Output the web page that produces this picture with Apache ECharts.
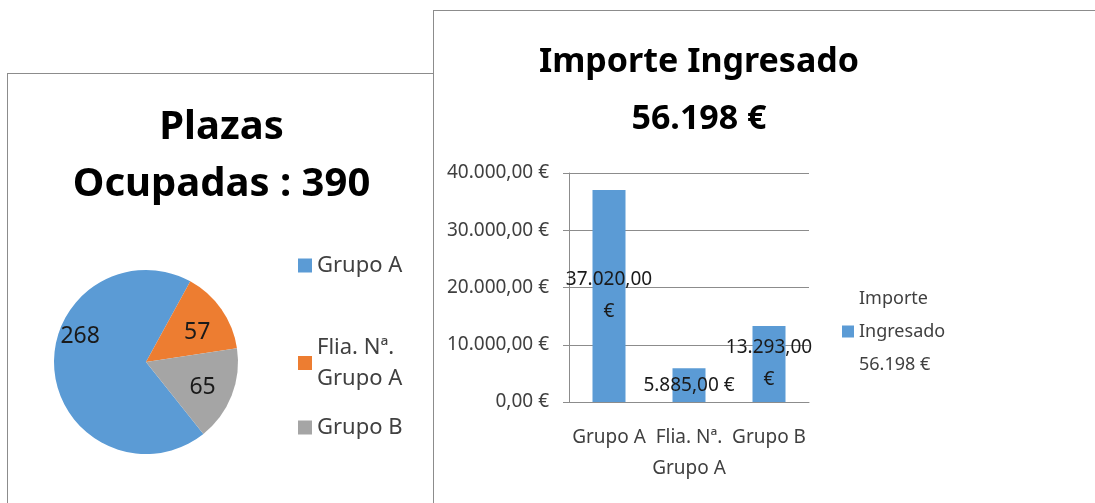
<!DOCTYPE html>
<html>
<head>
<meta charset="utf-8">
<script src="https://cdn.jsdelivr.net/npm/echarts@6/dist/echarts.min.js"></script>
<style>
  html, body { margin: 0; padding: 0; background: #fff; }
  body { width: 1095px; height: 503px; position: relative; overflow: hidden; }
  .panel { position: absolute; border: 1px solid #8c8c8c; background: #fff; }
  #left { left: 7px; top: 73px; width: 427px; height: 460px; }
  #right { left: 433px; top: 10px; width: 700px; height: 520px; }
  .chart { width: 100%; height: 100%; }
</style>
</head>
<body>
<div class="panel" id="left"><div class="chart" id="pieChart"></div></div>
<div class="panel" id="right"><div class="chart" id="barChart"></div></div>
<script>
// datos
const categories = ['Grupo A', 'Flia. Nª. Grupo A', 'Grupo B'];
const plazas = [268, 57, 65];
const importes = [37020, 5885, 13293];
const yTicks = [0, 10000, 20000, 30000, 40000];

const FONT = "'Noto Sans', 'Open Sans', sans-serif";
const colors = ['#5b9bd5', '#ed7d31', '#a5a5a5'];

// formato español: 40.000,00 €
function fmtNum(v, dec) {
  const parts = v.toFixed(dec).split('.');
  parts[0] = parts[0].replace(/\B(?=(\d{3})+(?!\d))/g, '.');
  return parts.join(',');
}

// parte el texto por palabras, max n caracteres por linea
function wrap(text, n) {
  const lines = [];
  let cur = '';
  text.split(' ').forEach(w => {
    if (cur && (cur + ' ' + w).length > n) {
      lines.push(cur);
      cur = w;
    } else {
      cur = cur ? cur + ' ' + w : w;
    }
  });
  lines.push(cur);
  return lines.join('\n');
}

const totalPlazas = plazas.reduce((a, b) => a + b, 0);
const totalImporte = importes.reduce((a, b) => a + b, 0);
const serieName = 'Importe Ingresado ' + fmtNum(totalImporte, 0) + ' €';

// posicion de las etiquetas del pie (como en excel)
const pieLabelOffsets = [[-17, -30], [11, -2], [11, 8]];
const legendTops = [176, 258, 338];

const pie = echarts.init(document.getElementById('pieChart'));
pie.setOption({
  animation: false,
  color: colors,
  title: {
    text: 'Plazas\nOcupadas : ' + totalPlazas,
    left: 'center',
    top: 25,
    padding: 0,
    textStyle: { fontFamily: FONT, fontWeight: 'bold', fontSize: 40, lineHeight: 57, color: '#000' }
  },
  // una leyenda por elemento para colocarlas como en excel
  legend: categories.map((name, i) => ({
    orient: 'vertical',
    left: 290,
    top: legendTops[i],
    padding: 0,
    itemWidth: 14,
    itemHeight: 14,
    icon: 'rect',
    data: [name],
    formatter: n => wrap(n, 9),
    textStyle: { fontFamily: FONT, fontSize: 22, lineHeight: 31, color: '#404040' }
  })),
  series: [{
    type: 'pie',
    center: [138, 288],
    radius: 92,
    startAngle: -51.4,
    clockwise: true,
    itemStyle: { borderWidth: 0 },
    emphasis: { disabled: true },
    label: {
      show: true,
      position: 'inside',
      fontFamily: FONT,
      fontSize: 23,
      color: '#1a1a1a',
      formatter: '{c}'
    },
    data: categories.map((name, i) => ({
      name: name,
      value: plazas[i],
      label: { offset: pieLabelOffsets[i] }
    }))
  }]
});

const bar = echarts.init(document.getElementById('barChart'));
bar.setOption({
  animation: false,
  title: {
    text: 'Importe Ingresado\n' + fmtNum(totalImporte, 0) + ' €',
    left: 265,
    textAlign: 'center',
    top: 23,
    padding: 0,
    textStyle: { fontFamily: FONT, fontWeight: 'bold', fontSize: 34, lineHeight: 57, color: '#000' }
  },
  legend: {
    orient: 'vertical',
    left: 408,
    top: 271,
    padding: 0,
    itemWidth: 12,
    itemHeight: 12,
    icon: 'rect',
    data: [serieName],
    formatter: n => wrap(n, 9),
    textStyle: { fontFamily: FONT, fontSize: 18, lineHeight: 33, color: '#404040' }
  },
  grid: { left: 135, top: 162, width: 240, height: 229, outerBoundsMode: 'none' },
  xAxis: {
    type: 'category',
    data: categories,
    axisLine: { lineStyle: { color: '#8c8c8c' } },
    axisTick: { length: 8, lineStyle: { color: '#8c8c8c' } },
    axisLabel: {
      fontFamily: FONT, fontSize: 19, lineHeight: 31, color: '#404040',
      margin: 20, interval: 0,
      formatter: v => wrap(v, 9)
    }
  },
  yAxis: {
    type: 'value',
    min: yTicks[0],
    max: yTicks[yTicks.length - 1],
    interval: yTicks[1] - yTicks[0],
    axisLine: { show: true, lineStyle: { color: '#8c8c8c' } },
    axisTick: { show: true, length: 6, lineStyle: { color: '#8c8c8c' } },
    splitLine: { lineStyle: { color: '#8c8c8c' } },
    axisLabel: {
      fontFamily: FONT, fontSize: 19, color: '#404040', margin: 20,
      formatter: v => fmtNum(v, 2) + ' €'
    }
  },
  series: [{
    name: serieName,
    type: 'bar',
    data: importes,
    barWidth: 33,
    itemStyle: { color: '#5b9bd5' },
    emphasis: { disabled: true },
    label: {
      show: true,
      position: 'inside',
      fontFamily: FONT,
      fontSize: 19,
      lineHeight: 32,
      color: '#1a1a1a',
      formatter: p => {
        const s = fmtNum(p.value, 2);
        return s.length > 8 ? s + '\n€' : s + ' €';
      }
    }
  }]
});
</script>
</body>
</html>
